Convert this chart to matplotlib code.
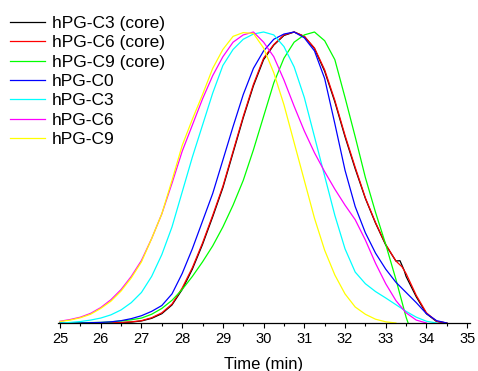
import matplotlib.pyplot as plt
from matplotlib.ticker import MultipleLocator

plt.rcParams["font.family"] = ["Liberation Sans", "DejaVu Sans"]

# Normalised GPC traces (time in min, intensity 0-1)
c3_core_t = [25.0, 26.0, 26.5, 26.75, 27.0, 27.25, 27.5, 27.75, 28.0, 28.25, 28.5, 28.75,
             29.0, 29.25, 29.5, 29.75, 30.0, 30.25, 30.5, 30.75, 31.0, 31.25, 31.5, 31.75,
             32.0, 32.25, 32.5, 32.75, 33.0, 33.25, 33.35, 33.45, 33.5, 33.75, 34.0, 34.25, 34.5]
c3_core_y = [0.0, 0.0, 0.001, 0.003, 0.007, 0.016, 0.032, 0.062, 0.115, 0.185, 0.27, 0.365,
             0.465, 0.585, 0.705, 0.815, 0.905, 0.955, 0.988, 1.0, 0.985, 0.943, 0.865, 0.76,
             0.64, 0.53, 0.428, 0.343, 0.268, 0.213, 0.214, 0.182, 0.16, 0.09, 0.032, 0.005, 0.0]

c6_core_t = [25.0, 26.0, 26.5, 26.75, 27.0, 27.25, 27.5, 27.75, 28.0, 28.25, 28.5, 28.75,
             29.0, 29.25, 29.5, 29.75, 30.0, 30.25, 30.5, 30.75, 31.0, 31.25, 31.5, 31.75,
             32.0, 32.25, 32.5, 32.75, 33.0, 33.25, 33.4, 33.5, 33.75, 34.0, 34.25, 34.5]
c6_core_y = [0.0, 0.0, 0.002, 0.004, 0.008, 0.018, 0.035, 0.065, 0.12, 0.19, 0.275, 0.37,
             0.47, 0.59, 0.71, 0.82, 0.91, 0.957, 0.99, 1.0, 0.985, 0.945, 0.87, 0.765,
             0.645, 0.535, 0.43, 0.345, 0.27, 0.213, 0.193, 0.17, 0.095, 0.035, 0.006, 0.0]

c9_core_t = [25.0, 26.0, 26.25, 26.5, 26.75, 27.0, 27.25, 27.5, 27.75, 28.0, 28.25, 28.5,
             28.75, 29.0, 29.25, 29.5, 29.75, 30.0, 30.25, 30.5, 30.75, 31.0, 31.25, 31.5,
             31.75, 32.0, 32.25, 32.5, 32.75, 33.0, 33.25, 33.5, 33.55]
c9_core_y = [0.0, 0.002, 0.004, 0.007, 0.011, 0.017, 0.03, 0.05, 0.078, 0.115, 0.16, 0.21,
             0.265, 0.33, 0.405, 0.49, 0.595, 0.71, 0.825, 0.91, 0.965, 0.99, 1.0, 0.97,
             0.905, 0.775, 0.64, 0.50, 0.38, 0.27, 0.15, 0.02, 0.0]

c0_t = [25.0, 25.5, 26.0, 26.25, 26.5, 26.75, 27.0, 27.25, 27.5, 27.75, 28.0, 28.25, 28.5,
        28.75, 29.0, 29.25, 29.5, 29.75, 30.0, 30.25, 30.5, 30.75, 31.0, 31.25, 31.5, 31.75,
        32.0, 32.25, 32.5, 32.75, 33.0, 33.25, 33.5, 33.75, 34.0, 34.25, 34.5]
c0_y = [0.0, 0.0, 0.002, 0.004, 0.008, 0.015, 0.025, 0.04, 0.06, 0.10, 0.17, 0.255, 0.35,
        0.445, 0.56, 0.675, 0.785, 0.875, 0.935, 0.975, 0.993, 1.0, 0.98, 0.935, 0.84, 0.685,
        0.525, 0.40, 0.31, 0.24, 0.185, 0.14, 0.105, 0.07, 0.032, 0.008, 0.0]

c3_t = [25.0, 25.25, 25.5, 25.75, 26.0, 26.25, 26.5, 26.75, 27.0, 27.25, 27.5, 27.75, 28.0,
        28.25, 28.5, 28.75, 29.0, 29.25, 29.5, 29.75, 30.0, 30.25, 30.5, 30.75, 31.0, 31.25,
        31.5, 31.75, 32.0, 32.25, 32.5, 32.75, 33.0, 33.25, 33.5, 33.75, 34.0, 34.25]
c3_y = [0.0, 0.002, 0.005, 0.01, 0.017, 0.028, 0.045, 0.07, 0.105, 0.16, 0.235, 0.33, 0.45,
        0.57, 0.68, 0.79, 0.885, 0.94, 0.975, 0.993, 1.0, 0.99, 0.95, 0.88, 0.775, 0.64,
        0.505, 0.37, 0.255, 0.175, 0.135, 0.108, 0.086, 0.063, 0.04, 0.02, 0.006, 0.0]

c6_t = [25.0, 25.25, 25.5, 25.75, 26.0, 26.25, 26.5, 26.75, 27.0, 27.25, 27.5, 27.75, 28.0,
        28.25, 28.5, 28.75, 29.0, 29.25, 29.5, 29.75, 30.0, 30.25, 30.5, 30.75, 31.0, 31.25,
        31.5, 31.75, 32.0, 32.25, 32.5, 32.75, 33.0, 33.25, 33.5, 33.75, 34.0]
c6_y = [0.006, 0.012, 0.02, 0.033, 0.053, 0.08, 0.115, 0.16, 0.215, 0.29, 0.375, 0.48, 0.59,
        0.68, 0.77, 0.85, 0.915, 0.965, 0.99, 1.0, 0.965, 0.915, 0.835, 0.745, 0.66, 0.585,
        0.52, 0.46, 0.405, 0.355, 0.285, 0.205, 0.135, 0.077, 0.035, 0.01, 0.0]

c9_t = [25.0, 25.25, 25.5, 25.75, 26.0, 26.25, 26.5, 26.75, 27.0, 27.25, 27.5, 27.75, 28.0,
        28.25, 28.5, 28.75, 29.0, 29.25, 29.5, 29.75, 30.0, 30.25, 30.5, 30.75, 31.0, 31.25,
        31.5, 31.75, 32.0, 32.25, 32.5, 32.75, 33.0, 33.25]
c9_y = [0.005, 0.01, 0.018, 0.03, 0.05, 0.075, 0.11, 0.155, 0.21, 0.29, 0.375, 0.49, 0.61,
        0.70, 0.785, 0.875, 0.94, 0.985, 0.998, 0.995, 0.945, 0.86, 0.75, 0.62, 0.49, 0.36,
        0.25, 0.165, 0.10, 0.055, 0.03, 0.013, 0.004, 0.0]

series = [
    ("hPG-C3 (core)", c3_core_t, c3_core_y, "black"),
    ("hPG-C6 (core)", c6_core_t, c6_core_y, "red"),
    ("hPG-C9 (core)", c9_core_t, c9_core_y, "#00ff00"),
    ("hPG-C0", c0_t, c0_y, "blue"),
    ("hPG-C3", c3_t, c3_y, "cyan"),
    ("hPG-C6", c6_t, c6_y, "magenta"),
    ("hPG-C9", c9_t, c9_y, "yellow"),
]

fig = plt.figure(figsize=(4.78, 3.71), dpi=100)
ax = fig.add_axes([58 / 478, 1 - 323 / 371, 412 / 478, (323 - 17.45) / 371])

handles = []
for label, t, y, color in series:
    (ln,) = ax.plot(t, y, color=color, lw=0.9, label=label)
    handles.append(ln)

ax.set_xlim(24.95, 35.07)
ax.set_ylim(0, 1.05)
ax.xaxis.set_major_locator(MultipleLocator(1))
ax.xaxis.set_minor_locator(MultipleLocator(0.5))
ax.tick_params(axis="x", which="major", direction="out", length=3.5, width=0.8,
               labelsize=10.5, pad=3)
ax.tick_params(axis="x", which="minor", direction="out", length=2, width=0.8)
ax.set_yticks([])
for side in ["left", "right", "top"]:
    ax.spines[side].set_visible(False)
ax.spines["bottom"].set_linewidth(0.9)
ax.set_xlabel("Time (min)", fontsize=12, labelpad=8)

fig.legend(handles=handles, loc="upper left", bbox_to_anchor=(10 / 478, 1 - 16 / 371),
           frameon=False, fontsize=12.5, labelspacing=0.24, handlelength=2.0,
           handletextpad=0.4, borderpad=0, borderaxespad=0)

fig.savefig("out.png", dpi=100)
